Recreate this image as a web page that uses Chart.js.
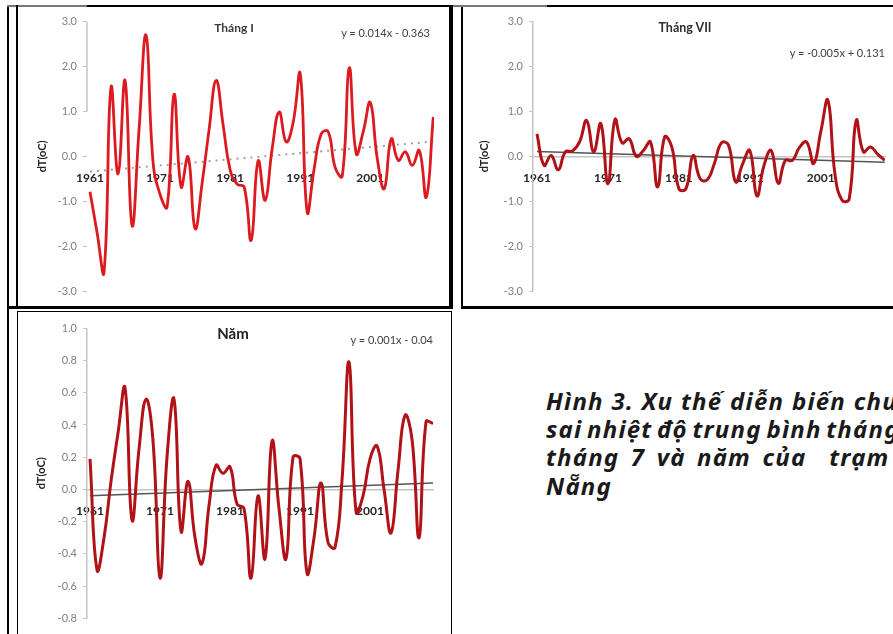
<!DOCTYPE html>
<html lang="vi">
<head>
<meta charset="utf-8">
<script src="https://cdn.jsdelivr.net/npm/chart.js@4.4.1/dist/chart.umd.min.js"></script>
<style>
  html, body { margin: 0; padding: 0; background: #fff; }
  body { position: relative; width: 893px; height: 634px; overflow: hidden; font-family: Lato, "Open Sans", sans-serif; }
  canvas { position: absolute; }
  .ln { position: absolute; background: #000; }
  .txt { position: absolute; white-space: nowrap; line-height: 14px; }
  .ttl { font-weight: bold; text-align: center; width: 200px; }
  .eq { font-size: 11px; color: #404040; text-align: right; width: 200px; }
  .cap { position: absolute; left: 546px; white-space: pre; font: italic 700 24px "Noto Sans", sans-serif; line-height: 28px; color: #1a1a1a; letter-spacing: 1.2px; }
</style>
</head>
<body>

<canvas id="chartJan" width="431" height="300" style="left:18px;top:6px"></canvas>
<canvas id="chartJul" width="429" height="300" style="left:464px;top:6px"></canvas>
<canvas id="chartYear" width="433" height="322" style="left:18px;top:312px"></canvas>

<!-- frames -->
<div class="ln" style="left:7px;top:5px;width:2px;height:629px"></div>
<div class="ln" style="left:7px;top:5px;width:80px;height:2px;background:#777"></div>
<div class="ln" style="left:87px;top:5px;width:366px;height:2px"></div>
<div class="ln" style="left:16px;top:5px;width:2px;height:302px"></div>
<div class="ln" style="left:449px;top:5px;width:4px;height:303px"></div>
<div class="ln" style="left:7px;top:306px;width:446px;height:3px"></div>

<div class="ln" style="left:461px;top:5px;width:2px;height:302px"></div>
<div class="ln" style="left:453px;top:5px;width:94px;height:2px;background:#777"></div>
<div class="ln" style="left:547px;top:5px;width:346px;height:2px"></div>
<div class="ln" style="left:461px;top:306px;width:432px;height:3px"></div>

<div class="ln" style="left:17px;top:311px;width:435px;height:1px"></div>
<div class="ln" style="left:17px;top:311px;width:1px;height:323px"></div>
<div class="ln" style="left:451px;top:311px;width:1px;height:323px"></div>

<!-- chart titles and trend equations -->
<div class="txt ttl" style="left:134px;top:21px;font-size:12px;color:#3a3a3a">Tháng I</div>
<div class="txt eq" style="left:230px;top:26px">y = 0.014x - 0.363</div>
<div class="txt ttl" style="left:585px;top:21px;font-size:12.5px;color:#2e2e2e">Tháng VII</div>
<div class="txt eq" style="left:685px;top:46px">y = -0.005x + 0.131</div>
<div class="txt ttl" style="left:133px;top:326px;font-size:15px;color:#222">Năm</div>
<div class="txt eq" style="left:233px;top:333px">y = 0.001x - 0.04</div>

<!-- caption (justified paragraph, cut by the page edge) -->
<div class="cap" style="top:387px;word-spacing:0.3px">Hình 3. Xu thế diễn biến chuẩn</div>
<div class="cap" style="top:415px;word-spacing:-2.8px">sai nhiệt độ trung bình tháng 1,</div>
<div class="cap" style="top:443px;word-spacing:4px">tháng 7 và năm của  trạm</div>
<div class="cap" style="top:471.5px">Nẵng</div>

<script>
// years on the horizontal axis
const years = [1961, 1962, 1963, 1964, 1965, 1966, 1967, 1968, 1969, 1970,
    1971, 1972, 1973, 1974, 1975, 1976, 1977, 1978, 1979, 1980,
    1981, 1982, 1983, 1984, 1985, 1986, 1987, 1988, 1989, 1990,
    1991, 1992, 1993, 1994, 1995, 1996, 1997, 1998, 1999, 2000,
    2001, 2002, 2003, 2004, 2005, 2006, 2007, 2008, 2009, 2010];
const decadeTicks = [1961, 1971, 1981, 1991, 2001];

// temperature anomaly dT (oC)
const dtJan = [-0.79, -1.69, -2.58, 1.54, -0.39, 1.69, -1.54, 0.6, 2.7, -0.13,
    -0.85, -1.13, 1.38, -0.68, -0.01, -1.61, -0.6, 0.6, 1.69, 0.7,
    -0.3, -0.62, -0.68, -1.87, -0.1, -0.98, 0.17, 0.99, 0.32, 0.76,
    1.84, -1.24, -0.27, 0.5, 0.55, -0.25, -0.44, 1.97, 0.06, 0.55,
    1.2, -0.05, -0.72, 0.39, -0.09, 0.1, -0.2, 0.13, -0.91, 0.88];
const dtJul = [0.5, -0.2, 0.02, -0.3, 0.1, 0.12, 0.32, 0.8, 0.1, 0.73,
    -0.61, 0.82, 0.3, 0.39, 0.0, 0.13, 0.32, -0.68, 0.43, 0.21,
    -0.72, -0.72, 0.02, -0.5, -0.52, -0.16, 0.3, 0.25, -0.57, -0.16,
    0.13, -0.88, -0.2, 0.13, -0.6, -0.09, -0.09, 0.2, 0.32, -0.16,
    0.55, 1.25, -0.4, -0.98, -0.95, 0.8, 0.1, 0.21, 0.05, -0.09];
const dtYear = [0.19, -0.5, -0.3, 0.05, 0.35, 0.63, -0.19, 0.25, 0.56, 0.3,
    -0.55, 0.2, 0.56, -0.26, 0.05, -0.3, -0.46, -0.1, 0.15, 0.1,
    0.14, -0.09, -0.12, -0.55, -0.04, -0.43, 0.3, -0.12, -0.43, 0.2,
    0.19, -0.52, -0.3, 0.04, -0.33, -0.36, 0.06, 0.79, -0.14, -0.04,
    0.19, 0.27, 0.0, -0.27, 0.12, 0.46, 0.31, -0.3, 0.42, 0.41];

// linear trend lines, end values
const trendYears = [1961, 2010];
const trendJan = [-0.34, 0.33];
const trendJul = [0.11, -0.13];
const trendYear = [-0.04, 0.04];

function points(xs, ys) {
    return xs.map((x, i) => ({ x: x, y: ys[i] }));
}

// the January panel only shows the upper part of its value axis line
const partialAxis = {
    id: 'partialAxis',
    beforeDatasetsDraw(chart, args, opts) {
        if (!opts.range) return;
        const y = chart.scales.y;
        const ctx = chart.ctx;
        ctx.save();
        ctx.strokeStyle = '#c4c4c4';
        ctx.lineWidth = 1.5;
        ctx.beginPath();
        ctx.moveTo(y.right, y.getPixelForValue(opts.range[0]));
        ctx.lineTo(y.right, y.getPixelForValue(opts.range[1]));
        ctx.stroke();
        ctx.restore();
    }
};

function makeChart(canvasId, values, trend, cfg) {
    return new Chart(document.getElementById(canvasId), {
        type: 'line',
        data: {
            datasets: [{
                data: points(years, values),
                borderColor: cfg.lineColor,
                borderWidth: cfg.lineWidth,
                tension: 0.45,
                pointRadius: 0,
                fill: false
            }, {
                data: points(trendYears, trend),
                borderColor: cfg.trendColor,
                borderWidth: cfg.trendWidth,
                borderDash: cfg.trendDash,
                pointRadius: 0,
                tension: 0,
                fill: false
            }]
        },
        plugins: [partialAxis],
        options: {
            responsive: false,
            animation: false,
            events: [],
            layout: { padding: cfg.padding },
            plugins: {
                legend: { display: false },
                tooltip: { enabled: false },
                partialAxis: { range: cfg.axisRange }
            },
            scales: {
                x: {
                    type: 'linear',
                    min: cfg.xMin,
                    max: cfg.xMax,
                    position: { y: 0 },
                    afterBuildTicks: s => { s.ticks = decadeTicks.map(v => ({ value: v })); },
                    grid: { display: false, drawTicks: false },
                    border: { display: cfg.showZero, color: '#c4c4c4', width: 1.5 },
                    ticks: {
                        autoSkip: false,
                        maxRotation: 0,
                        padding: 15,
                        color: '#262626',
                        font: { family: 'Lato', size: 12, weight: 'bold' },
                        callback: v => String(v)
                    }
                },
                y: {
                    min: cfg.yMin,
                    max: cfg.yMax,
                    afterFit: s => { s.width = cfg.axisWidth; },
                    grid: { drawOnChartArea: false, drawTicks: true, tickLength: 4, color: '#c4c4c4' },
                    border: { display: !cfg.axisRange, color: '#c4c4c4', width: 1.5 },
                    ticks: {
                        stepSize: cfg.step,
                        padding: 6,
                        color: '#808080',
                        font: { family: 'Lato', size: 11 },
                        callback: v => (Math.abs(v) < 1e-9 ? 0 : v).toFixed(1)
                    },
                    title: {
                        display: true,
                        text: 'dT(oC)',
                        color: '#222',
                        font: { family: 'Lato', size: 11, weight: 'bold' },
                        padding: { top: cfg.titlePad, bottom: 0 }
                    }
                }
            }
        }
    });
}

makeChart('chartJan', dtJan, trendJan, {
    lineColor: '#dc1a1f', lineWidth: 2.8, trendColor: '#a0a0a0', trendWidth: 2, trendDash: [2, 5],
    showZero: false, axisRange: [3, 1], xMin: 1960.57, xMax: 2010.1, yMin: -3, yMax: 3, step: 1,
    axisWidth: 69, titlePad: 18, padding: { left: 0, top: 15.7, right: 15, bottom: 15 }
});

makeChart('chartJul', dtJul, trendJul, {
    lineColor: '#b01217', lineWidth: 3, trendColor: '#555', trendWidth: 1.5, trendDash: [],
    showZero: true, axisRange: null, xMin: 1960.44, xMax: 2010.05, yMin: -3, yMax: 3, step: 1,
    axisWidth: 69, titlePad: 14, padding: { left: 0, top: 15.7, right: 8, bottom: 15 }
});

makeChart('chartYear', dtYear, trendYear, {
    lineColor: '#b01217', lineWidth: 3, trendColor: '#555', trendWidth: 1.5, trendDash: [],
    showZero: true, axisRange: null, xMin: 1960.57, xMax: 2010.05, yMin: -0.8, yMax: 1.0, step: 0.2,
    axisWidth: 69, titlePad: 17, padding: { left: 0, top: 16.3, right: 17.6, bottom: 15.7 }
});
</script>
</body>
</html>
